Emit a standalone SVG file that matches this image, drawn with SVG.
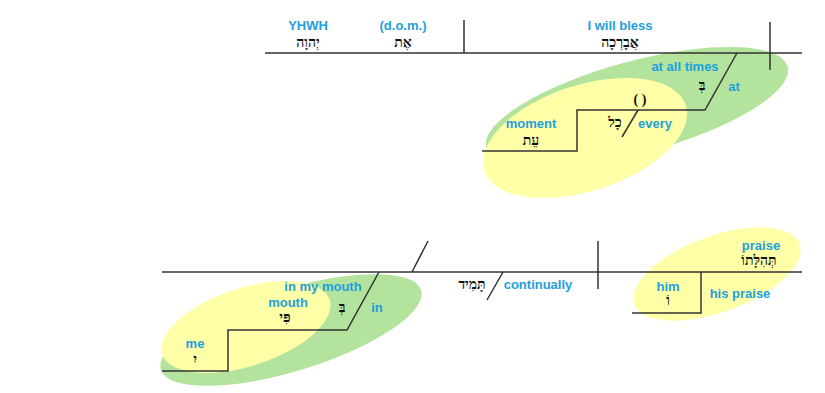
<svg xmlns="http://www.w3.org/2000/svg" width="825" height="393" viewBox="0 0 825 393">
<style>
.en{font-family:"Liberation Sans",Arial,sans-serif;font-weight:bold;font-size:13px;fill:#1ea0dc;text-anchor:middle}
.he{font-family:"Liberation Serif","DejaVu Serif",serif;font-weight:bold;font-size:14px;fill:#111;text-anchor:middle}
.ln{stroke:#333;stroke-width:1.5;fill:none}
.g{fill:#b3e39c}
.y{fill:#ffffa8}
</style>
<rect width="825" height="393" fill="#fff"/>
<g id="ellipses">
<ellipse class="g" cx="637" cy="107" rx="156" ry="46" transform="rotate(-15 637 107)"/>
<ellipse class="y" cx="585" cy="138" rx="106" ry="53" transform="rotate(-18 585 138)"/>
<ellipse class="g" cx="291" cy="330" rx="136" ry="41" transform="rotate(-17 291 330)"/>
<ellipse class="y" cx="246" cy="327" rx="88" ry="39" transform="rotate(-18 246 327)"/>
<ellipse class="y" cx="717" cy="274" rx="88" ry="38" transform="rotate(-20 717 274)"/>
</g>
<g id="connectors">
<path class="ln" d="M265 53H802M464 20V53M770 22V70"/>
<path class="ln" d="M737 53L705 110H577V151H482"/>
<path class="ln" d="M638 110L622 137"/>
<path class="ln" d="M162 272H802M598 241V289M412 272L428 241"/>
<path class="ln" d="M503 272L487 300"/>
<path class="ln" d="M379 272L347 330H228V371H162"/>
<path class="ln" d="M701 272V313H632"/>
</g>
<g id="n-yhwh"><text class="en" x="308" y="30">YHWH</text><text class="he" x="308" y="47">יְהוָה</text></g>
<g id="n-dom"><text class="en" x="403" y="30">(d.o.m.)</text><text class="he" x="403" y="47">אֶת</text></g>
<g id="n-bless"><text class="en" x="620" y="30">I will bless</text><text class="he" x="620" y="47">אֲבָרְכָה</text></g>
<g id="n-times"><text class="en" x="685" y="71">at all times</text></g>
<g id="n-at"><text class="he" x="702" y="90">בְּ</text><text class="en" x="734" y="91">at</text></g>
<g id="n-paren"><text class="he" x="640" y="104">( )</text></g>
<g id="n-every"><text class="he" x="615" y="127">כָל</text><text class="en" x="655" y="128">every</text></g>
<g id="n-moment"><text class="en" x="531" y="128">moment</text><text class="he" x="531" y="145">עֵת</text></g>
<g id="n-mymouth"><text class="en" x="323" y="291">in my mouth</text></g>
<g id="n-mouth"><text class="en" x="288" y="307">mouth</text><text class="he" x="285" y="322">פִּי</text></g>
<g id="n-in"><text class="he" x="342" y="312">בְּ</text><text class="en" x="377" y="312">in</text></g>
<g id="n-me"><text class="en" x="195" y="348">me</text><text class="he" x="195" y="364">יִ</text></g>
<g id="n-cont"><text class="he" x="472" y="289">תָּמִיד</text><text class="en" x="538" y="289">continually</text></g>
<g id="n-praise"><text class="en" x="761" y="250">praise</text><text class="he" x="759" y="265">תְּהִלָּתוֹ</text></g>
<g id="n-him"><text class="en" x="668" y="291">him</text><text class="he" x="668" y="305">וֹ</text></g>
<g id="n-hispraise"><text class="en" x="740" y="298">his praise</text></g>
</svg>
